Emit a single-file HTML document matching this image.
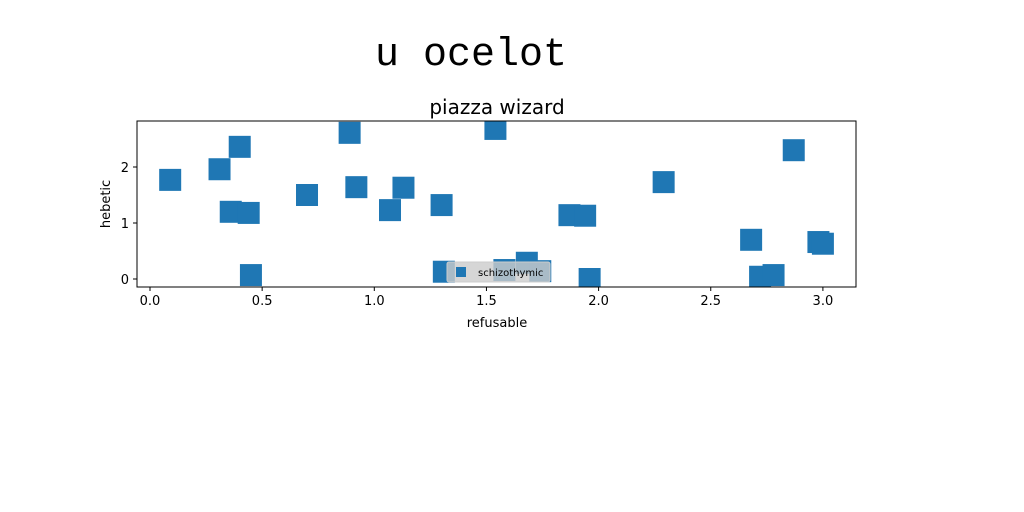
<!DOCTYPE html>
<html><head><meta charset="utf-8"><style>
body{margin:0;width:1024px;height:512px;background:#fff;overflow:hidden}
svg{display:block}
</style></head><body>
<svg width="1024" height="512" xmlns="http://www.w3.org/2000/svg">
<defs><clipPath id="cp"><rect x="137" y="121" width="719" height="166"/></clipPath></defs>
<text x="471" y="65" font-family="Liberation Mono, monospace" font-size="40" text-anchor="middle">u ocelot</text>
<text x="497" y="114" font-family="DejaVu Sans, sans-serif" font-size="20" text-anchor="middle">piazza wizard</text>
<g id="marks" clip-path="url(#cp)"></g>
<g id="plot"></g>
</svg>
<script>
const xs=[0.09,0.31,0.40,0.36,0.44,0.45,0.70,0.89,0.92,1.07,1.13,1.30,1.31,1.54,1.58,1.68,1.74,1.87,1.94,1.96,2.29,2.68,2.72,2.78,2.87,2.98,3.00];
const ys=[1.77,1.96,2.36,1.20,1.18,0.07,1.50,2.61,1.64,1.23,1.63,1.32,0.13,2.68,0.16,0.29,0.14,1.14,1.13,0.0,1.73,0.70,0.04,0.07,2.30,0.66,0.63];
const xTicks=[0,0.5,1.0,1.5,2.0,2.5,3.0];
const xTickLabels=["0.0","0.5","1.0","1.5","2.0","2.5","3.0"];
const yTicks=[0,1,2];
const yTickLabels=["0","1","2"];
const L=137,R=856,T=121,B=287;
const X=v=>150+v*224.3, Y=v=>279-v*56;
const ns="http://www.w3.org/2000/svg", g=document.getElementById('plot'), gm=document.getElementById('marks');
function mk(t,a,p){const e=document.createElementNS(ns,t);for(const k in a)e.setAttribute(k,a[k]);(p||g).appendChild(e);return e;}
xs.forEach((x,i)=>{
 const r=mk('rect',{x:X(x)-11,y:Y(ys[i])-11,width:22,height:22,fill:'#1f77b4'},gm);
 
 
});
const ax=mk('rect',{x:L,y:T,width:R-L,height:B-T,fill:'none',stroke:'#000','stroke-width':1});


xTicks.forEach((v,i)=>{
 mk('line',{x1:X(v),x2:X(v),y1:B,y2:B+4,stroke:'#000'});
 const t=mk('text',{x:X(v),y:B+18,'font-family':'DejaVu Sans, sans-serif','font-size':13,'text-anchor':'middle'});
 t.textContent=xTickLabels[i];
 
 
});
yTicks.forEach((v,i)=>{
 mk('line',{x1:L-4,x2:L,y1:Y(v),y2:Y(v),stroke:'#000'});
 const t=mk('text',{x:L-8,y:Y(v)+5,'font-family':'DejaVu Sans, sans-serif','font-size':13,'text-anchor':'end'});
 t.textContent=yTickLabels[i];
 
 
});
const xl=mk('text',{x:497,y:327,'font-family':'DejaVu Sans, sans-serif','font-size':13,'text-anchor':'middle'});
xl.textContent='refusable';


const yl=mk('text',{x:110,y:204,'font-family':'DejaVu Sans, sans-serif','font-size':13,'text-anchor':'middle',transform:'rotate(-90 110 204)'});
yl.textContent='hebetic';


const lg=mk('rect',{x:447,y:262,width:103,height:20,fill:'#ccc','fill-opacity':0.8,stroke:'#ccc',rx:2});


mk('rect',{x:456,y:267,width:10,height:10,fill:'#1f77b4'});
const lt=mk('text',{x:478,y:276,'font-family':'DejaVu Sans, sans-serif','font-size':10});
lt.textContent='schizothymic';


</script>
</body></html>
